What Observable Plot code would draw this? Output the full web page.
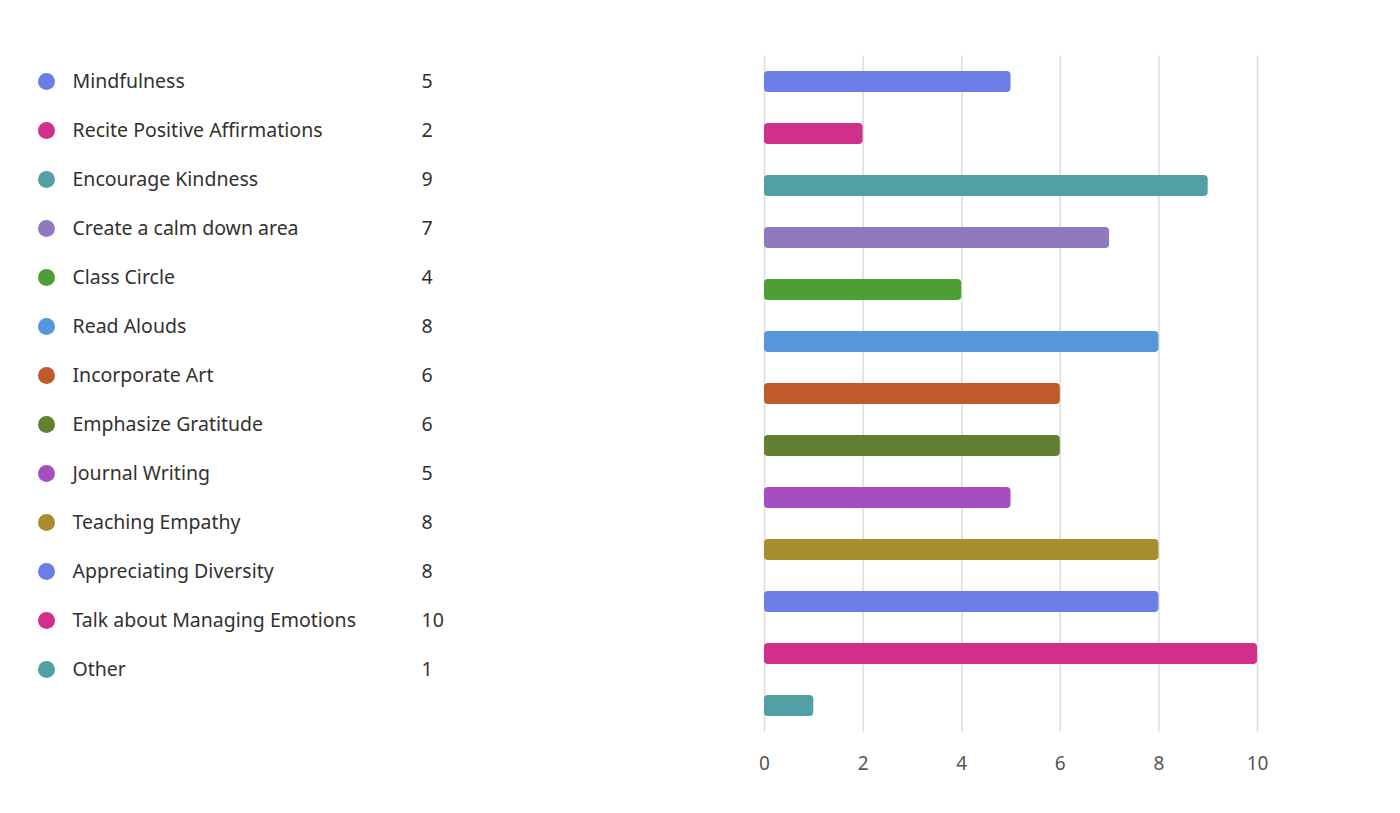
<!DOCTYPE html>
<html>
<head>
<meta charset="utf-8">
<script src="https://cdn.jsdelivr.net/npm/d3@7"></script>
<script src="https://cdn.jsdelivr.net/npm/@observablehq/plot@0.6"></script>
<style>
  html, body { margin: 0; padding: 0; background: #fff; }
  #wrap { position: relative; width: 1400px; height: 813px; overflow: hidden; }
  #wrap > svg { position: absolute; left: 0; top: 0; }
</style>
</head>
<body>
<div id="wrap"></div>
<script>
const categories = [
  "Mindfulness",
  "Recite Positive Affirmations",
  "Encourage Kindness",
  "Create a calm down area",
  "Class Circle",
  "Read Alouds",
  "Incorporate Art",
  "Emphasize Gratitude",
  "Journal Writing",
  "Teaching Empathy",
  "Appreciating Diversity",
  "Talk about Managing Emotions",
  "Other"
];
const counts = [5, 2, 9, 7, 4, 8, 6, 6, 5, 8, 8, 10, 1];
const xTicks = [0, 2, 4, 6, 8, 10];
const palette = ["#6a7ee6", "#d0308a", "#52a0a4", "#9079be", "#4c9e35", "#5596dc",
                 "#bf5a2a", "#62802f", "#a44ebf", "#a88d2e", "#6a7ee6", "#d0308a", "#52a0a4"];

const data = categories.map((name, i) => ({name, value: counts[i]}));
const font = "'Noto Sans', 'Open Sans', sans-serif";

const legend = Plot.plot({
  width: 480,
  height: 813,
  margin: 0,
  style: {fontFamily: font, background: "transparent"},
  y: {type: "point", domain: categories, range: [81, 669], padding: 0, axis: null},
  color: {domain: categories, range: palette},
  marks: [
    Plot.dot(data, {y: "name", fill: "name", r: 8.5, frameAnchor: "left", dx: 46}),
    Plot.text(data, {y: "name", text: "name", frameAnchor: "left", dx: 72, textAnchor: "start",
                     fontSize: 19.5, fill: "#323130"}),
    Plot.text(data, {y: "name", text: d => String(d.value), frameAnchor: "left", dx: 421,
                     textAnchor: "start", fontSize: 19.5, fill: "#323130"})
  ]
});

const chart = Plot.plot({
  width: 1400,
  height: 813,
  marginLeft: 764,
  marginRight: 143,
  marginTop: 55.5,
  marginBottom: 81.5,
  style: {fontFamily: font, background: "transparent"},
  x: {domain: [0, 10], ticks: xTicks, label: null},
  y: {domain: categories, paddingInner: 0.596, paddingOuter: 0.298, axis: null},
  color: {domain: categories, range: palette},
  marks: [
    Plot.gridX(xTicks, {stroke: "#dcdcdc", strokeOpacity: 1, strokeWidth: 1.5}),
    Plot.barX(data, {x: "value", y: "name", fill: "name", rx: 4}),
    Plot.axisX(xTicks, {tickSize: 0, tickPadding: 24, fontSize: 19, fill: "#555", label: null})
  ]
});

const wrap = document.getElementById("wrap");
wrap.appendChild(chart);
wrap.appendChild(legend);
</script>
</body>
</html>
